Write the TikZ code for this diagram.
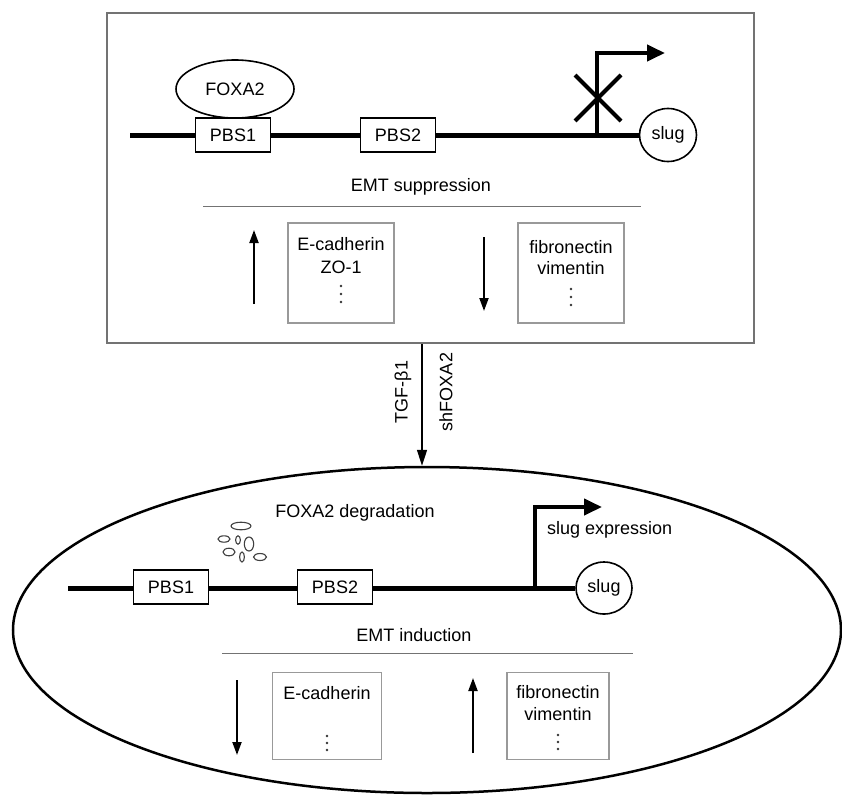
\documentclass[tikz,border=0pt]{standalone}
\usepackage{fontspec}
\setmainfont{Liberation Sans}
\usetikzlibrary{arrows.meta,shapes.geometric,calc}
\begin{document}
\begin{tikzpicture}[x=1pt,y=-1pt,
  txt/.style={inner sep=0pt, font=\fontsize{18}{21}\selectfont},
  dna/.style={line width=5pt},
  pbsbox/.style={draw, fill=white, line width=1.6pt, minimum width=75pt, minimum height=34pt, inner sep=0pt, font=\fontsize{18}{21}\selectfont},
  genebox/.style={draw=black!40, line width=1.2pt, minimum width=106pt, minimum height=100pt, inner sep=0pt},
  sepline/.style={draw=black!55, line width=1pt},
  updown/.style={line width=2pt, -{Triangle[length=13pt,width=9pt]}},
  prom/.style={line width=4pt, -{Triangle[length=18pt,width=16pt]}},
  slugc/.style={draw, ellipse, line width=1.6pt, fill=white, minimum width=57pt, minimum height=53pt, inner sep=0pt, font=\fontsize{18}{21}\selectfont},
  frag/.style={draw=black!75, line width=1.1pt},
  dotm/.style={fill=black!80, draw=none, circle, minimum size=2.6pt, inner sep=0pt}
]
\useasboundingbox (0,0) rectangle (842,795);

% ---------------- top panel ----------------
\node[draw=black!55, line width=2pt, minimum width=647pt, minimum height=330pt, inner sep=0pt] (topbox) at (430,178) {};

\coordinate (tdnaL) at (130,135);
\node[slugc] (tslug) at (668,135) {slug};
\draw[dna] (tdnaL) -- (tslug.west);
\node[pbsbox] (tpbs1) at (233,135) {PBS1};
\node[pbsbox] (tpbs2) at (398,135) {PBS2};
\node[draw, ellipse, line width=1.6pt, fill=white, minimum width=118pt, minimum height=58pt, inner sep=0pt, font=\fontsize{18}{21}\selectfont] (foxa2) at (235,89) {FOXA2};

\coordinate (tp0) at (597,135);
\coordinate (tp1) at (665,53);
\draw[prom] (tp0) |- (tp1);
\coordinate (xc) at (598,98);
\draw[line width=4pt] ($(xc)+(-23,-23)$) -- ($(xc)+(23,23)$);
\draw[line width=4pt] ($(xc)+(23,-23)$) -- ($(xc)+(-23,23)$);

\node[txt] (emts) at (421,187) {EMT suppression};
\coordinate (tl0) at (203,206);
\coordinate (tl1) at (641,206);
\draw[sepline] (tl0) -- (tl1);

\coordinate (tu0) at (254,304);
\coordinate (tu1) at (254,230);
\draw[updown] (tu0) -- (tu1);
\node[genebox] (tecad) at (341,273) {};
\node[txt] (tecad1) at (341,244) {E-cadherin};
\node[txt] (tzo) at (341,267) {ZO-1};
\node[dotm] (td1a) at (341,286) {};
\node[dotm] (td1b) at (341,294) {};
\node[dotm] (td1c) at (341,302) {};

\coordinate (td0) at (484,237);
\coordinate (td1) at (484,311);
\draw[updown] (td0) -- (td1);
\node[genebox] (tfib) at (571,273) {};
\node[txt] (tfib1) at (571,247) {fibronectin};
\node[txt] (tvim) at (571,268) {vimentin};
\node[dotm] (td2a) at (571,289) {};
\node[dotm] (td2b) at (571,297) {};
\node[dotm] (td2c) at (571,305) {};

% ---------------- middle arrow ----------------
\node[draw, ellipse, line width=2.5pt, minimum width=828pt, minimum height=326pt, inner sep=0pt] (cell) at (427,630) {};
\draw[line width=1.6pt, -{Triangle[length=16pt,width=10pt]}] (topbox.south -| 422,0) -- (cell.north -| 422,0);
\node[txt, rotate=90] (tgf) at (403,392) {TGF-β1};
\node[txt, rotate=90] (shf) at (446,392) {shFOXA2};

% ---------------- bottom panel ----------------
\node[txt] (deg) at (355,513) {FOXA2 degradation};
\draw[frag] (241,526) ellipse [x radius=10, y radius=3.8];
\draw[frag] (224,539) ellipse [x radius=6, y radius=3.2];
\draw[frag] (238,540) ellipse [x radius=2.4, y radius=4.2];
\draw[frag] (249,544) ellipse [x radius=4.7, y radius=7];
\draw[frag] (229,552) ellipse [x radius=6, y radius=3.8];
\draw[frag] (242,557) ellipse [x radius=2.4, y radius=5];
\draw[frag] (260,557) ellipse [x radius=6.5, y radius=3.5];

\coordinate (bdnaL) at (68,588);
\node[slugc, minimum width=56pt, minimum height=52pt] (bslug) at (604,588) {slug};
\draw[dna] (bdnaL) -- (bslug.west);
\node[pbsbox] (bpbs1) at (171,587) {PBS1};
\node[pbsbox] (bpbs2) at (335,587) {PBS2};

\coordinate (bp0) at (535,588);
\coordinate (bp1) at (602,507);
\draw[prom] (bp0) |- (bp1);
\node[txt, anchor=west] (sexp) at (547,530) {slug expression};

\node[txt] (emti) at (414,635) {EMT induction};
\coordinate (bl0) at (222,653);
\coordinate (bl1) at (633,653);
\draw[sepline] (bl0) -- (bl1);

\coordinate (bd0) at (237,680);
\coordinate (bd1) at (237,755);
\draw[updown] (bd0) -- (bd1);
\node[genebox, minimum width=109pt, minimum height=87pt] (becad) at (327,716) {};
\node[txt] (becad1) at (327,693) {E-cadherin};
\node[dotm] (bd1a) at (327,736) {};
\node[dotm] (bd1b) at (327,743) {};
\node[dotm] (bd1c) at (327,750) {};

\coordinate (bu0) at (473,753);
\coordinate (bu1) at (473,678);
\draw[updown] (bu0) -- (bu1);
\node[genebox, minimum width=102pt, minimum height=87pt] (bfib) at (558,716) {};
\node[txt] (bfib1) at (558,692) {fibronectin};
\node[txt] (bvim) at (558,714) {vimentin};
\node[dotm] (bd2a) at (558,735) {};
\node[dotm] (bd2b) at (558,742) {};
\node[dotm] (bd2c) at (558,749) {};
\end{tikzpicture}
\end{document}
